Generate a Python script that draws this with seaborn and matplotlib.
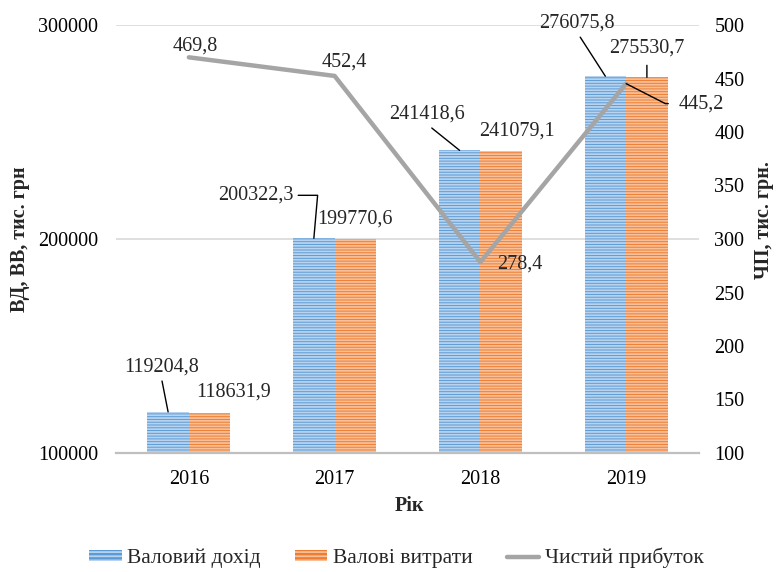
import matplotlib
matplotlib.use("Agg")
import matplotlib.pyplot as plt
from matplotlib.patches import Patch
from matplotlib.lines import Line2D
import seaborn as sns
import pandas as pd

# Data
years = ["2016", "2017", "2018", "2019"]
gross_income = [119204.8, 200322.3, 241418.6, 276075.8]
gross_costs = [118631.9, 199770.6, 241079.1, 275530.7]
net_profit = [469.8, 452.4, 278.4, 445.2]
series_names = ["Валовий дохід", "Валові витрати", "Чистий прибуток"]
left_ticks = [100000, 200000, 300000]
right_ticks = [100, 150, 200, 250, 300, 350, 400, 450, 500]

sns.set_theme(style="white")
plt.rcParams["font.family"] = ["Liberation Serif", "DejaVu Serif"]
plt.rcParams["hatch.linewidth"] = 1.3
FS = 14.5

BLUE, BLUE_STRIPE = "#5b9bd5", "#b7d3ef"
ORANGE, ORANGE_STRIPE = "#ed7d31", "#f8bf98"
GREY = "#a5a5a5"

df = pd.DataFrame({
    "year": years * 2,
    "value": gross_income + gross_costs,
    "series": [series_names[0]] * 4 + [series_names[1]] * 4,
})

fig = plt.figure(figsize=(7.76, 5.72), dpi=100)
ax = fig.add_axes([116 / 776, 1 - 453 / 572, 583 / 776, 428 / 572])

sns.barplot(data=df, x="year", y="value", hue="series", palette=[BLUE, ORANGE],
            width=0.57, gap=0, saturation=1, legend=False, ax=ax, zorder=2)

stripes = [BLUE_STRIPE, ORANGE_STRIPE]
for cont, sc in zip(ax.containers, stripes):
    for bar in cont:
        bar.set_hatch("------")
        bar.set_edgecolor(sc)
        bar.set_linewidth(0)

ax.set_ylim(100000, 300000)
ax.set_yticks(left_ticks)
ax.set_yticklabels([str(t) for t in left_ticks], fontsize=FS)
ax.set_xticks(range(len(years)))
ax.set_xticklabels(years, fontsize=FS)
ax.set_xlim(-0.5, 3.5)
ax.tick_params(axis="y", length=0, pad=13, colors="black")
ax.tick_params(axis="x", length=0, pad=12, colors="black")
ax.yaxis.grid(True, color="#d9d9d9", lw=1.2, zorder=0)
ax.set_axisbelow(True)
for s in ["left", "right", "top"]:
    ax.spines[s].set_visible(False)
ax.spines["bottom"].set_color("#bfbfbf")
ax.spines["bottom"].set_linewidth(1.6)
ax.spines["bottom"].set_zorder(3)

ax.set_xlabel("Рік", fontsize=FS, fontweight="bold")
ax.xaxis.set_label_coords(0.504, -0.1005)
ax.set_ylabel("ВД, ВВ, тис. грн", fontsize=FS, fontweight="bold")
ax.yaxis.set_label_coords(-0.148, 0.5)

# Net profit on the secondary axis
ax2 = ax.twinx()
sns.lineplot(x=list(range(len(years))), y=net_profit, color=GREY, lw=3.2,
             sort=False, ax=ax2, zorder=4)
ax2.set_ylim(100, 500)
ax2.set_yticks(right_ticks)
ax2.set_yticklabels([str(t) for t in right_ticks], fontsize=FS)
ax2.tick_params(axis="y", length=0, pad=11, colors="black")
for s in ax2.spines.values():
    s.set_visible(False)
ax2.set_ylabel("ЧП, тис. грн.", fontsize=FS, fontweight="bold", rotation=90)
ax2.yaxis.set_label_coords(1.095, 0.544)
ax2.grid(False)


def fmt(v):
    return f"{v:.1f}".replace(".", ",")


leader = dict(arrowstyle="-", color="black", lw=1, shrinkA=1, shrinkB=0)

# Labels for gross income bars (offsets in pixels, with leader lines)
inc_offsets = [(-7, 45), (-58, 43), (-33, 36), (-28, 53)]
for bar, v, (dx, dy), i in zip(ax.containers[0], gross_income, inc_offsets, range(4)):
    xc = bar.get_x() + bar.get_width() / 2
    props = dict(leader)
    if i == 1:
        props.update(connectionstyle="angle,angleA=0,angleB=85,rad=0", relpos=(1.0, 0.5))
    else:
        props.update(relpos=(0.5, 0.0))
    ax.annotate(fmt(v), xy=(xc, v), xytext=(dx, dy), textcoords="offset pixels",
                ha="center", va="center", fontsize=FS, arrowprops=props, zorder=5)

# Labels for gross costs bars
cost_offsets = [(24, 21), (0, 20), (16, 20), (0, 29)]
for bar, v, (dx, dy), i in zip(ax.containers[1], gross_costs, cost_offsets, range(4)):
    xc = bar.get_x() + bar.get_width() / 2
    props = None
    if i == 3:
        props = dict(leader, relpos=(0.5, 0.0), shrinkA=3)
    ax.annotate(fmt(v), xy=(xc, v), xytext=(dx, dy), textcoords="offset pixels",
                ha="center", va="center", fontsize=FS, arrowprops=props, zorder=5)

# Labels for the net profit line
line_offsets = [(6, 11), (10, 14), (39, -2), (75, -20)]
for i, (v, (dx, dy)) in enumerate(zip(net_profit, line_offsets)):
    props = None
    if i == 3:
        props = dict(leader, connectionstyle="angle,angleA=0,angleB=-27,rad=0",
                     relpos=(0.0, 0.5), shrinkA=5)
    ax2.annotate(fmt(v), xy=(i, v), xytext=(dx, dy), textcoords="offset pixels",
                 ha="center", va="center", fontsize=FS, arrowprops=props, zorder=6)

# Legend
handles = [
    Patch(facecolor=BLUE, edgecolor=BLUE_STRIPE, hatch="----", lw=0),
    Patch(facecolor=ORANGE, edgecolor=ORANGE_STRIPE, hatch="----", lw=0),
    Line2D([0], [0], color=GREY, lw=3.2),
]
fig.legend(handles, series_names, loc="center", bbox_to_anchor=(0.511, 0.0245),
           ncol=3, frameon=False, fontsize=15.5, handlelength=1.5, handleheight=0.42,
           handletextpad=0.25, columnspacing=1.6)

fig.savefig("out.png", dpi=100)
